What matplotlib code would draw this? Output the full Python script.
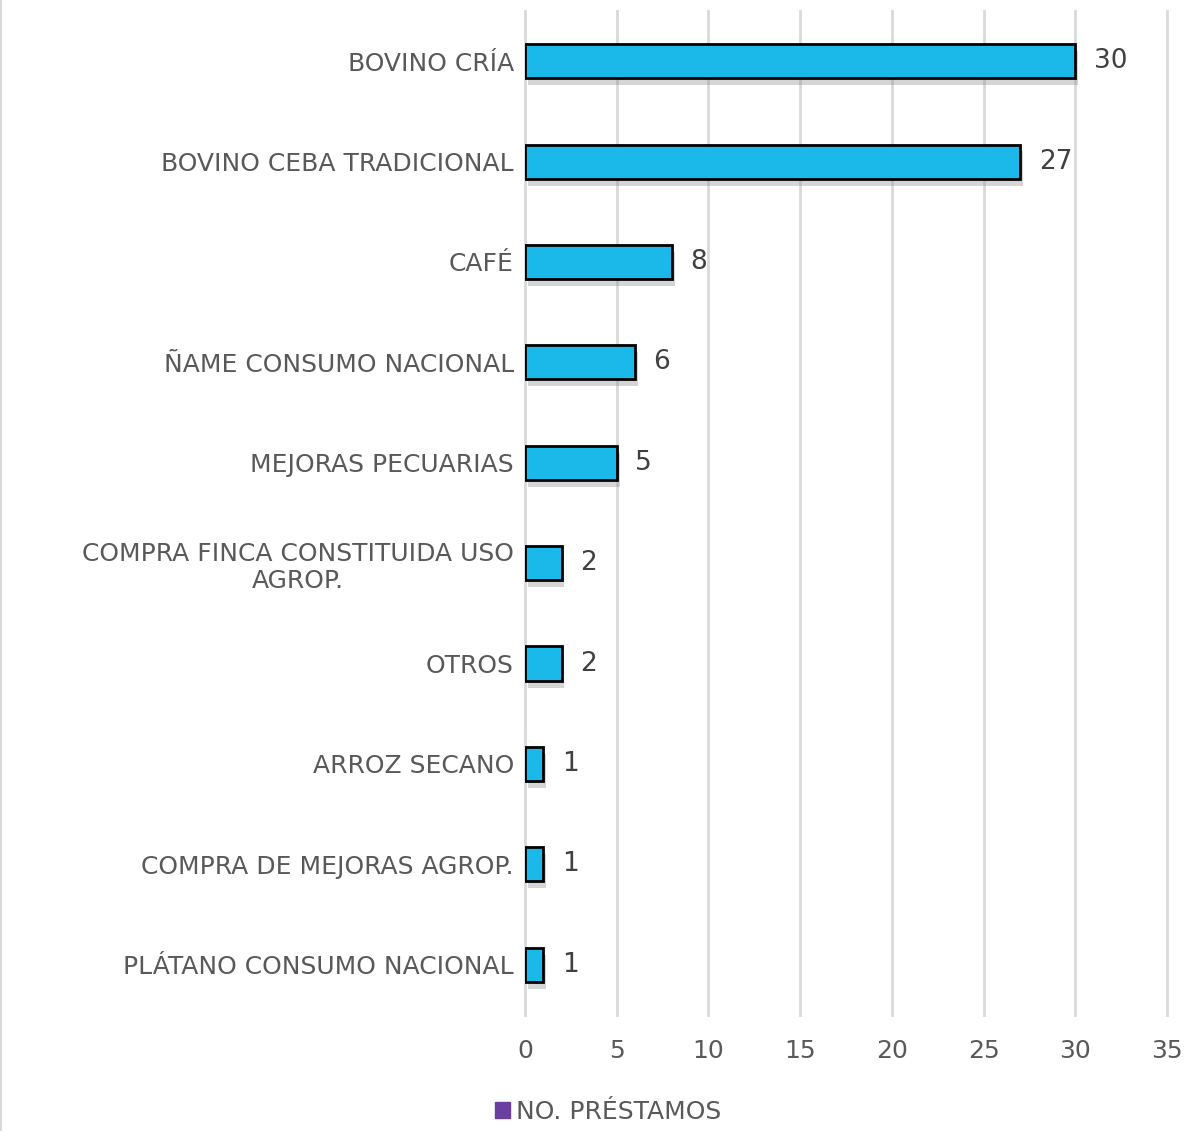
import matplotlib.pyplot as plt
import matplotlib.patheffects as pe
from matplotlib.patches import Patch

# datos
categorias = ['BOVINO CRÍA', 'BOVINO CEBA TRADICIONAL', 'CAFÉ', 'ÑAME CONSUMO NACIONAL',
              'MEJORAS PECUARIAS', 'COMPRA FINCA CONSTITUIDA USO\nAGROP.', 'OTROS',
              'ARROZ SECANO', 'COMPRA DE MEJORAS AGROP.', 'PLÁTANO CONSUMO NACIONAL']
prestamos = [30, 27, 8, 6, 5, 2, 2, 1, 1, 1]
xticks = [0, 5, 10, 15, 20, 25, 30, 35]
serie = 'NO. PRÉSTAMOS'

gris = '#595959'
plt.rcParams['font.family'] = 'DejaVu Sans'

fig = plt.figure(figsize=(11.9, 11.31), dpi=100)
ax = fig.add_axes([0.4412, 0.1026, 0.5395, 0.8877])

y = list(range(len(categorias)))
bars = ax.barh(y, prestamos, height=0.34, color='#1BB9EA', edgecolor='black',
               linewidth=2, zorder=3)
for b in bars:
    b.set_path_effects([pe.SimplePatchShadow(offset=(2, -5), shadow_rgbFace='#888888', alpha=0.35),
                        pe.Normal()])

for yi, v in zip(y, prestamos):
    ax.text(v + 1.0, yi, str(v), va='center', ha='left', fontsize=19, color='#404040')

ax.set_ylim(len(categorias) - 0.5, -0.5)
ax.set_xlim(0, 35)
ax.set_xticks(xticks)
ax.set_xticklabels([str(t) for t in xticks], fontsize=18, color=gris)
ax.set_yticks(y)
ax.set_yticklabels(categorias, fontsize=18, color=gris, ha='right', multialignment='center')
ax.tick_params(axis='both', length=0)
ax.tick_params(axis='y', pad=8)
ax.tick_params(axis='x', pad=17)
ax.grid(axis='x', color='#d9d9d9', linewidth=2, zorder=0)
for g in ax.xaxis.get_gridlines():
    g.set_clip_on(False)
for s in ax.spines.values():
    s.set_visible(False)

fig.legend(handles=[Patch(color='#6A3FA0', label=serie)], loc='center',
           bbox_to_anchor=(0.511, 0.017), frameon=False, fontsize=18,
           handlelength=0.6, handleheight=0.6, handletextpad=0.25, labelcolor=gris)

fig.add_artist(plt.Line2D([0.001, 0.001], [0, 1], color='#d9d9d9', linewidth=1.5))

fig.savefig('out.png', dpi=100)
